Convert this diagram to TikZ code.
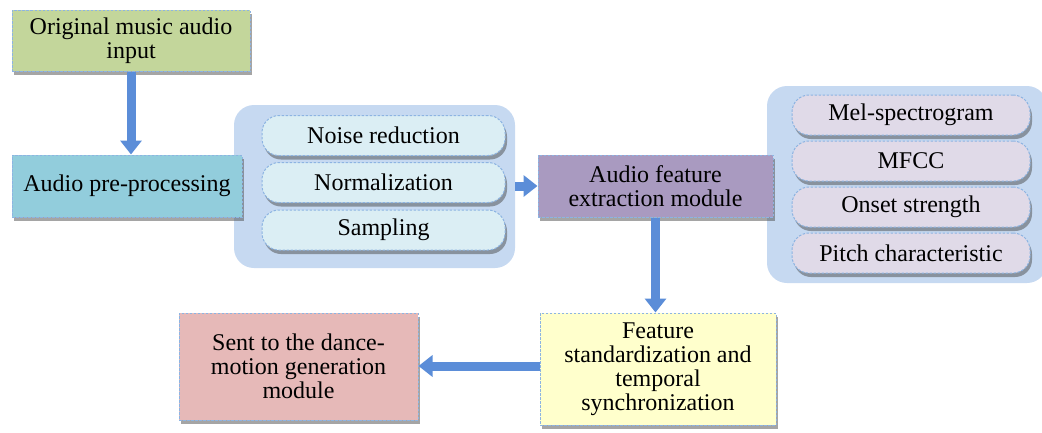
\documentclass[tikz,border=0pt]{standalone}
\usepackage{fontspec}
\setmainfont{Liberation Serif}
\usetikzlibrary{arrows.meta,shadows,positioning}

\definecolor{greenbox}{HTML}{C3D69B}
\definecolor{tealbox}{HTML}{92CDDC}
\definecolor{panelblue}{HTML}{C6D9F1}
\definecolor{pillblue}{HTML}{DBEEF4}
\definecolor{purplebox}{HTML}{A99AC0}
\definecolor{pilllav}{HTML}{E0DAE8}
\definecolor{yellowbox}{HTML}{FFFFCC}
\definecolor{redbox}{HTML}{E6B9B8}
\definecolor{flowblue}{HTML}{5B8DD8}
\definecolor{edgeblue}{HTML}{8DB4E2}

\tikzset{
  txt/.style={font=\fontsize{24}{24}\selectfont, align=center, text=black},
  boxshadow/.style={drop shadow={shadow xshift=2pt, shadow yshift=-4pt, opacity=0.5, fill=black!70}},
  block/.style={txt, rectangle, draw=edgeblue, dash pattern=on 2.5pt off 1.5pt, line width=1pt,
                inner sep=0pt, boxshadow},
  pill/.style={txt, rounded corners=17pt, draw=edgeblue, dash pattern=on 2.5pt off 1.5pt, line width=1pt,
               inner sep=0pt, minimum height=40pt, boxshadow},
  panel/.style={rectangle, rounded corners=20pt, fill=panelblue, draw=none, inner sep=0pt},
  flow/.style={draw=flowblue, line width=9pt, -{Triangle[width=21pt,length=14pt]}},
}

\begin{document}
\begin{tikzpicture}[x=1pt, y=-1pt]
\useasboundingbox (0,0) rectangle (1042,432);

% background panels holding the sub-steps
\node[panel, minimum width=281pt, minimum height=163pt] (prepanel) at (374.5,186.5) {};
\node[panel, minimum width=280pt, minimum height=197pt] (featpanel) at (907,184.5) {};

% main pipeline blocks
\node[block, fill=greenbox, minimum width=238pt, minimum height=61pt] (input) at (131,40.5)
  {Original music audio\\input};
\node[block, fill=tealbox, minimum width=230pt, minimum height=62pt] (prep) at (127,186)
  {Audio pre-processing};
\node[block, fill=purplebox, minimum width=235pt, minimum height=62pt] (feat) at (655.5,186)
  {Audio feature\\extraction module};
\node[block, fill=yellowbox, minimum width=236pt, minimum height=112pt] (sync) at (658,369)
  {Feature\\standardization and\\temporal\\synchronization};
\node[block, fill=redbox, minimum width=239pt, minimum height=107pt] (out) at (298.5,366.5)
  {Sent to the dance-\\motion generation\\module};

% pre-processing steps
\node[pill, fill=pillblue, minimum width=243pt] (noise) at (383.5,135.5) {Noise reduction};
\node[pill, fill=pillblue, minimum width=243pt] (norm) at (383.5,182.5) {Normalization};
\node[pill, fill=pillblue, minimum width=243pt] (samp) at (383.5,230) {Sampling};

% extracted features
\node[pill, fill=pilllav, minimum width=238pt] (mel) at (911,115) {Mel-spectrogram};
\node[pill, fill=pilllav, minimum width=238pt] (mfcc) at (911,161) {MFCC};
\node[pill, fill=pilllav, minimum width=238pt] (onset) at (911,207) {Onset strength};
\node[pill, fill=pilllav, minimum width=238pt] (pitch) at (911,253) {Pitch characteristic};

% flow arrows
\draw[flow] (input.south) -- (input.south |- prep.north);
\draw[flow] (prepanel.east |- feat.west) -- (feat.west);
\draw[flow] (feat.south) -- (sync.north -| feat.south);
\coordinate (leftgo) at ([yshift=3pt]sync.west);
\draw[flow] (leftgo) -- (leftgo -| out.east);
\end{tikzpicture}
\end{document}
